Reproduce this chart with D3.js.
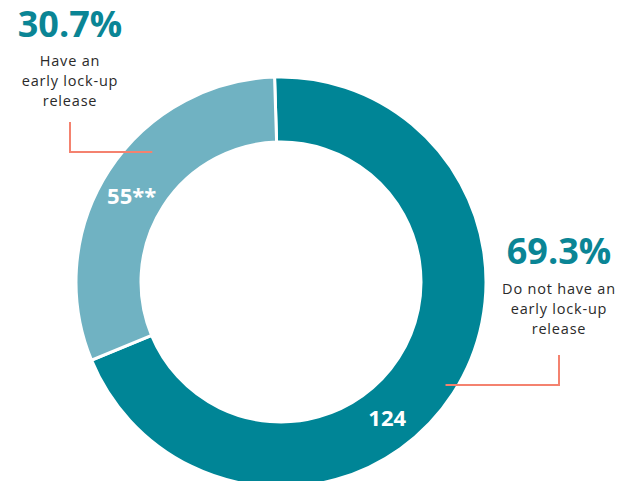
<!DOCTYPE html>
<html>
<head>
<meta charset="utf-8">
<script src="https://cdn.jsdelivr.net/npm/d3@7"></script>
<style>
  body { margin: 0; background: #fff; }
  svg { display: block; }
  .pct { font-family: "Open Sans", sans-serif; font-weight: 700; fill: #0a8595; }
  .desc { font-family: "Open Sans", sans-serif; font-weight: 400; fill: #2a2a2a; letter-spacing: 0.8px; }
  .val { font-family: "Open Sans", sans-serif; font-weight: 700; fill: #fff; }
</style>
</head>
<body>
<div id="chart"></div>
<script>
const categories = ["Do not have an early lock-up release", "Have an early lock-up release"];
const counts = [124, 55];
const countLabels = ["124", "55**"];
const percentLabels = ["69.3%", "30.7%"];
const descLines = [
    ["Do not have an", "early lock-up", "release"],
    ["Have an", "early lock-up", "release"]
];
const colors = ["#008596", "#70b2c2"];

const width = 636;
const height = 481;
const cx = 281, cy = 282;
const outerR = 205, innerR = 140;
const rot = -1.8 * Math.PI / 180;

const svg = d3.select("#chart").append("svg")
    .attr("width", width)
    .attr("height", height);

const pie = d3.pie()
    .value(d => d)
    .sort(null)
    .startAngle(rot)
    .endAngle(rot + 2 * Math.PI);

const arcs = pie(counts);

const arc = d3.arc()
    .innerRadius(innerR)
    .outerRadius(outerR);

const g = svg.append("g")
    .attr("transform", `translate(${cx},${cy})`);

g.selectAll(".slice")
    .data(arcs)
    .enter().append("path")
    .attr("class", "slice")
    .attr("d", arc)
    .attr("fill", (d, i) => colors[i])
    .attr("stroke", "#fff")
    .attr("stroke-width", 3);

// value labels sit in the ring, not at the exact centroid
const labelAngle = [142, 300].map(a => a * Math.PI / 180);
const midR = (innerR + outerR) / 2;
g.selectAll(".val")
    .data(arcs)
    .enter().append("text")
    .attr("class", "val")
    .attr("x", (d, i) => midR * Math.sin(labelAngle[i]))
    .attr("y", (d, i) => -midR * Math.cos(labelAngle[i]))
    .attr("dy", "0.36em")
    .attr("text-anchor", "middle")
    .attr("font-size", 22)
    .text((d, i) => countLabels[i]);

// callouts: percent + description + leader line
const callouts = [
    { x: 559, y: 264, lineY: 294, leaderAng: 122, leaderR: 194, elbowY: 355, elbowX: 559, lineBase: 385 },
    { x: 70, y: 37, lineY: 66, leaderAng: 315, leaderR: 182, elbowY: 122, elbowX: 70, lineBase: 152 }
];

callouts.forEach((c, i) => {
    svg.append("text")
        .attr("class", "pct")
        .attr("x", c.x)
        .attr("y", c.y)
        .attr("text-anchor", "middle")
        .attr("font-size", 36)
        .text(percentLabels[i]);

    svg.append("text")
        .attr("class", "desc")
        .attr("text-anchor", "middle")
        .attr("font-size", 14.5)
        .selectAll("tspan")
        .data(descLines[i])
        .enter().append("tspan")
        .attr("x", c.x)
        .attr("y", (d, j) => c.lineY + j * 20)
        .text(d => d);

    const a = c.leaderAng * Math.PI / 180;
    const px = cx + c.leaderR * Math.sin(a);
    svg.append("path")
        .attr("d", `M${c.elbowX},${c.elbowY}V${c.lineBase}H${px}`)
        .attr("fill", "none")
        .attr("stroke", "#f4826f")
        .attr("stroke-width", 2);
});
</script>
</body>
</html>
